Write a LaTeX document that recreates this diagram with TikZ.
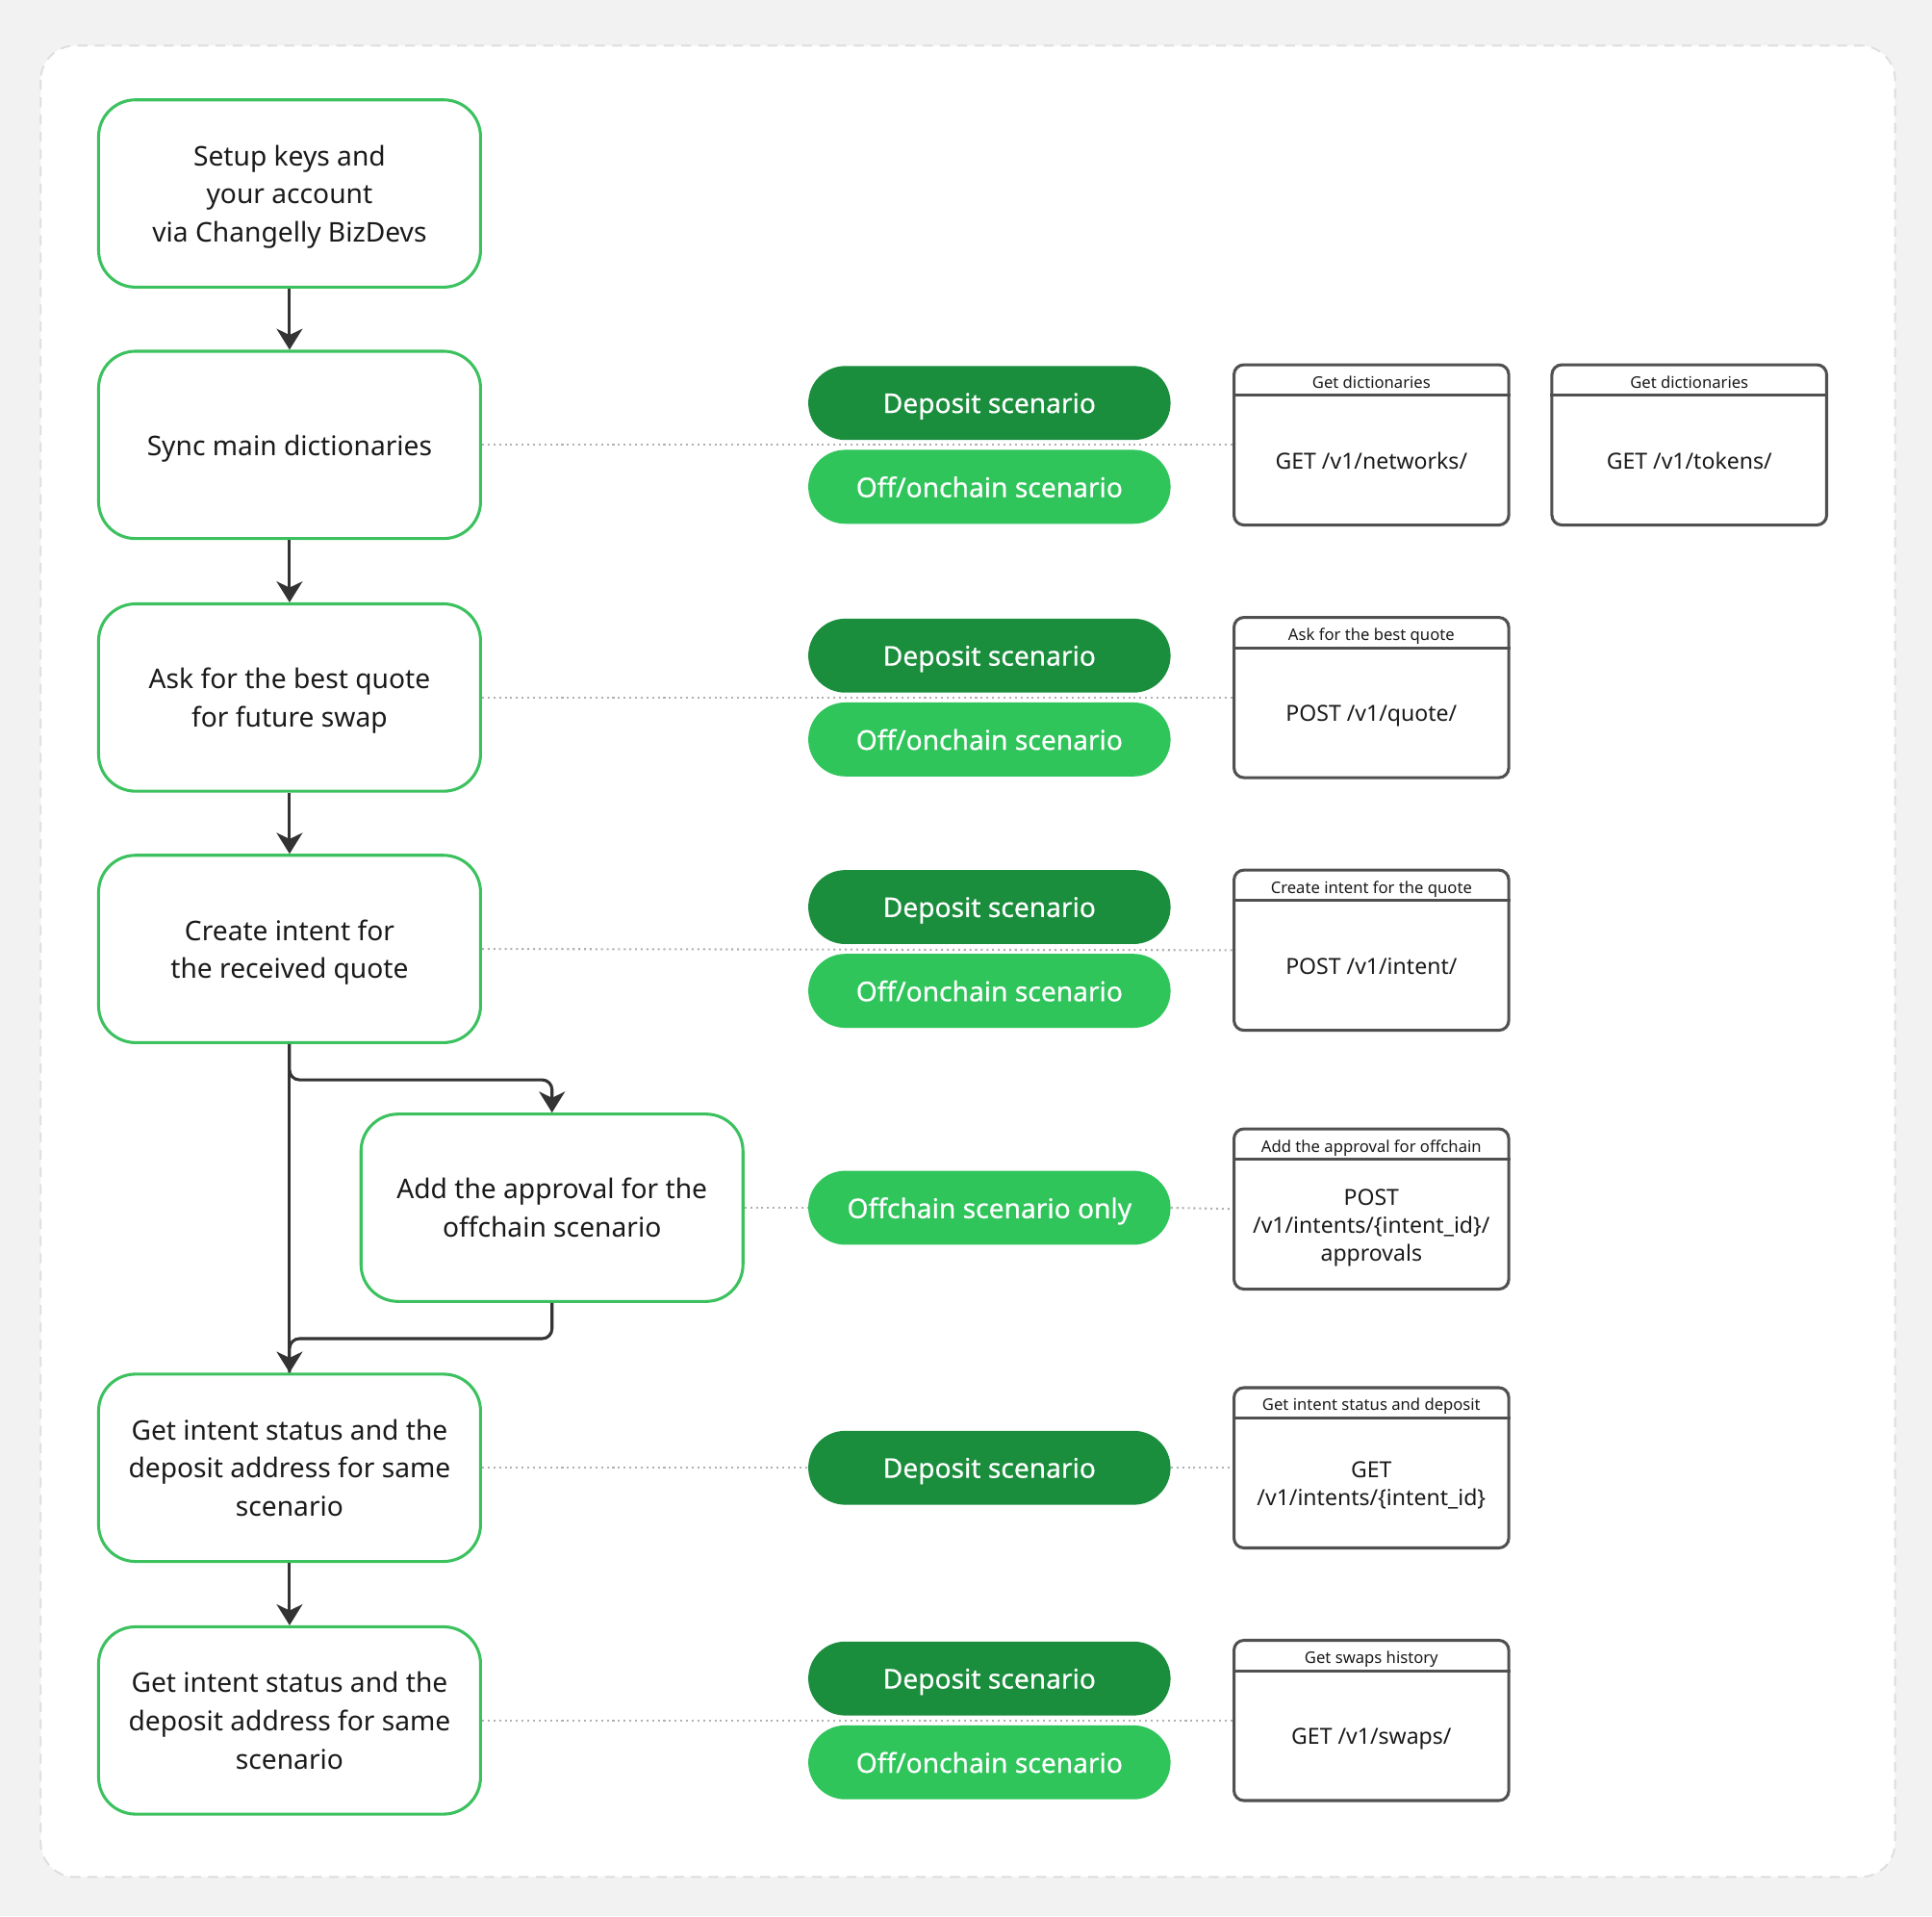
\documentclass[tikz,border=0pt]{standalone}
\usepackage{fontspec}
\setmainfont{Noto Sans}
\newfontfamily\pillfont{Noto Sans}[FakeBold=0.5]
\usetikzlibrary{arrows.meta}

\definecolor{bggray}{HTML}{F2F2F2}
\definecolor{framegray}{HTML}{DEDEDE}
\definecolor{boxgreen}{HTML}{3CC15F}
\definecolor{deepgreen}{HTML}{1A8E3D}
\definecolor{lightgreen}{HTML}{2FC55B}
\definecolor{ink}{HTML}{1A1A1A}
\definecolor{arrowgray}{HTML}{333333}
\definecolor{apigray}{HTML}{505050}
\definecolor{dotgray}{HTML}{B0B0B0}

\tikzset{
  stage/.style={draw=boxgreen, line width=2.4pt, fill=white, rounded corners=30pt,
    minimum width=310pt, minimum height=152pt, align=center, text=ink, text depth=0pt,
    font=\fontsize{22}{31}\selectfont},
  pill/.style={rounded corners=30pt, minimum width=294pt, minimum height=60pt,
    text=white, text depth=0pt, font=\pillfont\fontsize{22}{26}\selectfont},
  deposit/.style={pill, fill=deepgreen},
  onchain/.style={pill, fill=lightgreen},
  api/.style={draw=apigray, line width=2.4pt, fill=white, rounded corners=8pt,
    minimum width=223pt, minimum height=130pt},
  apihead/.style={font=\fontsize{13}{15}\selectfont, text=ink, text depth=0pt},
  apibody/.style={font=\fontsize{18}{22.5}\selectfont, text=ink, align=center, text depth=0pt},
  flow/.style={draw=arrowgray, line width=2.4pt, -{Stealth[length=17pt,width=21pt,inset=5pt]}},
  branch/.style={draw=arrowgray, line width=2.4pt, rounded corners=8pt},
  link/.style={draw=dotgray, line width=1.6pt, dash pattern=on 1.6pt off 3pt},
}

% endpoint card: name, x, y, header, body
\newcommand{\apibox}[5]{%
  \node[api] (#1) at (#2,#3) {};
  \draw[apigray, line width=2.4pt] ([yshift=-26pt]#1.north west) -- ([yshift=-26pt]#1.north east);
  \node[apihead] (#1h) at ([yshift=-15pt]#1.north) {#4};
  \node[apibody] (#1b) at ([yshift=-13pt]#1.center) {#5};
}

\begin{document}
\begin{tikzpicture}[x=1pt,y=-1pt]

  % page and frame
  \fill[bggray] (0,0) rectangle (1568,1555);
  \draw[framegray, fill=white, line width=1.5pt, dash pattern=on 8pt off 6pt, rounded corners=28pt]
    (33,37) rectangle (1538,1523);

  % main steps
  \node[stage] (setup)   at (235,157)  {Setup keys and\\your account\\via Changelly BizDevs};
  \node[stage] (sync)    at (235,361)  {Sync main dictionaries};
  \node[stage] (quote)   at (235,566)  {Ask for the best quote\\for future swap};
  \node[stage] (intent)  at (235,770)  {Create intent for\\the received quote};
  \node[stage] (approve) at (448,980)  {Add the approval for the\\offchain scenario};
  \node[stage] (status)  at (235,1191) {Get intent status and the\\deposit address for same\\scenario};
  \node[stage] (history) at (235,1396) {Get intent status and the\\deposit address for same\\scenario};

  % endpoints
  \apibox{networks}{1113}{361}{Get dictionaries}{GET /v1/networks/}
  \apibox{tokens}{1371}{361}{Get dictionaries}{GET /v1/tokens/}
  \apibox{quoteapi}{1113}{566}{Ask for the best quote}{POST /v1/quote/}
  \apibox{intentapi}{1113}{771}{Create intent for the quote}{POST /v1/intent/}
  \apibox{approveapi}{1113}{981}{Add the approval for offchain}{POST\\/v1/intents/\{intent\_id\}/\\approvals}
  \apibox{statusapi}{1113}{1191}{Get intent status and deposit}{GET\\/v1/intents/\{intent\_id\}}
  \apibox{swapsapi}{1113}{1396}{Get swaps history}{GET /v1/swaps/}

  % scenario pills
  \foreach \y in {361,566,770,1396}
  {
    \node[deposit] (dep\y) at (803,\y-34) {Deposit scenario};
    \node[onchain] (onc\y) at (803,\y+34) {Off/onchain scenario};
  }
  \node[onchain] (offonly) at (803,980)  {Offchain scenario only};
  \node[deposit] (deponly) at (803,1191) {Deposit scenario};

  % dotted links
  \draw[link] (sync.east) -- (networks.west);
  \draw[link] (quote.east) -- (quoteapi.west);
  \draw[link] (intent.east) -- (intentapi.west);
  \draw[link] (history.east) -- (swapsapi.west);
  \draw[link] (approve.east) -- (offonly.west);
  \draw[link] (offonly.east) -- (approveapi.west);
  \draw[link] (status.east) -- (deponly.west);
  \draw[link] (deponly.east) -- (statusapi.west);

  % flow
  \draw[flow] (setup) -- (sync);
  \draw[flow] (sync) -- (quote);
  \draw[flow] (quote) -- (intent);
  \draw[flow] (intent) -- (status);
  \draw[flow, rounded corners=8pt] (intent.south) -- ++(0,29) -| (approve.north);
  \draw[branch] (approve.south) -- ++(0,29) -| (status.north);
  \draw[flow] (status) -- (history);

\end{tikzpicture}
\end{document}
